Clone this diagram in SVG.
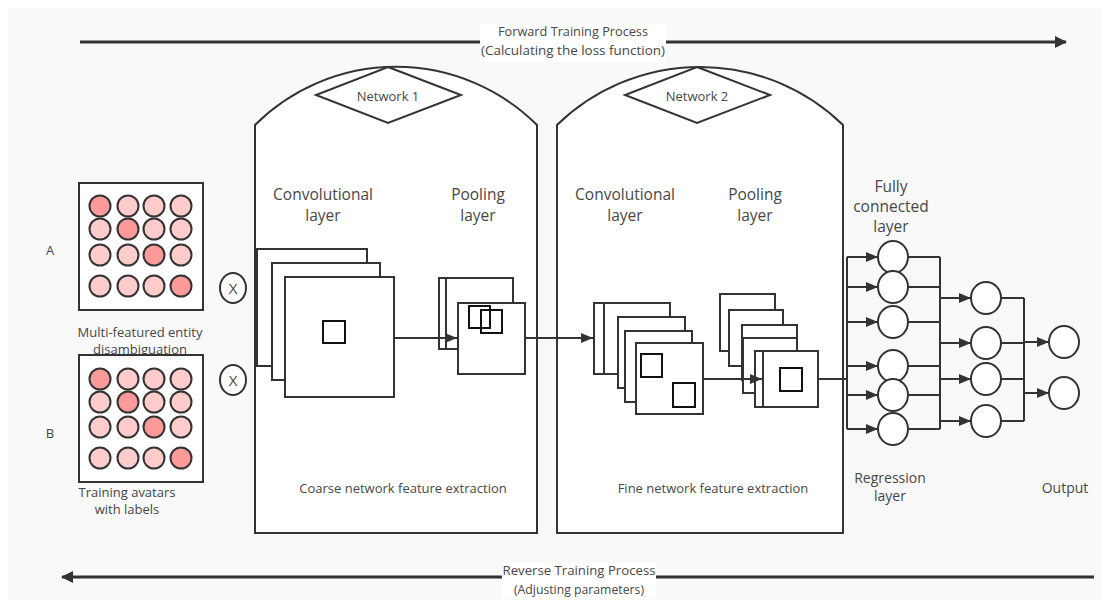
<svg xmlns="http://www.w3.org/2000/svg" width="1110" height="608" viewBox="0 0 1110 608">
  <style>
    text { font-family: "Open Sans", "Noto Sans", sans-serif; fill: #474747; }
    .ln { fill: none; stroke: #333; stroke-width: 2; }
    .box { fill: #fff; stroke: #333; stroke-width: 2; }
    .sq { fill: none; stroke: #111; stroke-width: 2; }
    .node { fill: #fff; stroke: #333; stroke-width: 2; }
    .dk { fill: #ff9a9a; stroke: #333; stroke-width: 2; }
    .lt { fill: #ffcccc; stroke: #333; stroke-width: 2; }
    .arr { fill: none; stroke: #333; stroke-width: 2; marker-end: url(#tri); }
    .big { fill: none; stroke: #333; stroke-width: 3; }
    .lab { font-size: 15.5px; text-anchor: middle; }
    .cap { font-size: 13px; text-anchor: middle; }
    .cap2 { font-size: 14px; text-anchor: middle; }
  </style>
  <defs>
    <marker id="tri" viewBox="0 0 12 10" refX="12" refY="5" markerWidth="12" markerHeight="10" markerUnits="userSpaceOnUse" orient="auto">
      <path d="M0,0 L12,5 L0,10 Z" fill="#333"/>
    </marker>
    <marker id="triBig" viewBox="0 0 12 12" refX="11" refY="6" markerWidth="12" markerHeight="12" markerUnits="userSpaceOnUse" orient="auto">
      <path d="M0,0 L12,6 L0,12 Z" fill="#333"/>
    </marker>
  </defs>

  <!-- canvas -->
  <rect x="0" y="0" width="1110" height="608" fill="#fff"/>
  <rect x="8" y="8" width="1094" height="592" fill="#f9f9f9"/>

  <!-- training direction arrows -->
  <g id="forward">
    <path class="big" d="M80,42 H1066" marker-end="url(#triBig)"/>
    <rect x="480" y="24" width="186" height="38" fill="#fff"/>
    <text x="573" y="36" font-size="13" text-anchor="middle" textLength="150" lengthAdjust="spacingAndGlyphs">Forward Training Process</text>
    <text x="573" y="55" font-size="13" text-anchor="middle" textLength="184" lengthAdjust="spacingAndGlyphs">(Calculating the loss function)</text>
  </g>
  <g id="reverse">
    <path class="big" d="M1094,577 H62" marker-end="url(#triBig)"/>
    <rect x="502" y="563" width="154" height="36" fill="#fff"/>
    <text x="579" y="575" font-size="13" text-anchor="middle" textLength="153" lengthAdjust="spacingAndGlyphs">Reverse Training Process</text>
    <text x="579" y="594" font-size="13" text-anchor="middle" textLength="130" lengthAdjust="spacingAndGlyphs">(Adjusting parameters)</text>
  </g>

  <!-- input A -->
  <g id="input-a">
    <text x="50" y="255" font-size="13" text-anchor="middle">A</text>
    <rect class="box" x="79" y="183" width="124" height="127"/>
    <circle class="dk" cx="100" cy="206" r="10.5"/>
    <circle class="lt" cx="128" cy="206" r="10.5"/>
    <circle class="lt" cx="154" cy="206" r="10.5"/>
    <circle class="lt" cx="181" cy="206" r="10.5"/>
    <circle class="lt" cx="100" cy="229" r="10.5"/>
    <circle class="dk" cx="128" cy="229" r="10.5"/>
    <circle class="lt" cx="154" cy="229" r="10.5"/>
    <circle class="lt" cx="181" cy="229" r="10.5"/>
    <circle class="lt" cx="100" cy="255" r="10.5"/>
    <circle class="lt" cx="128" cy="255" r="10.5"/>
    <circle class="dk" cx="154" cy="255" r="10.5"/>
    <circle class="lt" cx="181" cy="255" r="10.5"/>
    <circle class="lt" cx="100" cy="286" r="10.5"/>
    <circle class="lt" cx="128" cy="286" r="10.5"/>
    <circle class="lt" cx="154" cy="286" r="10.5"/>
    <circle class="dk" cx="181" cy="286" r="10.5"/>
    <text class="cap" x="140" y="337">Multi-featured entity</text>
    <text class="cap" x="140" y="354">disambiguation</text>
  </g>

  <!-- input B -->
  <g id="input-b">
    <text x="50" y="438" font-size="13" text-anchor="middle">B</text>
    <rect class="box" x="79" y="355" width="124" height="127"/>
    <circle class="dk" cx="100" cy="379" r="10.5"/>
    <circle class="lt" cx="128" cy="379" r="10.5"/>
    <circle class="lt" cx="154" cy="379" r="10.5"/>
    <circle class="lt" cx="181" cy="379" r="10.5"/>
    <circle class="lt" cx="100" cy="402" r="10.5"/>
    <circle class="dk" cx="128" cy="402" r="10.5"/>
    <circle class="lt" cx="154" cy="402" r="10.5"/>
    <circle class="lt" cx="181" cy="402" r="10.5"/>
    <circle class="lt" cx="100" cy="427" r="10.5"/>
    <circle class="lt" cx="128" cy="427" r="10.5"/>
    <circle class="dk" cx="154" cy="427" r="10.5"/>
    <circle class="lt" cx="181" cy="427" r="10.5"/>
    <circle class="lt" cx="100" cy="458" r="10.5"/>
    <circle class="lt" cx="128" cy="458" r="10.5"/>
    <circle class="lt" cx="154" cy="458" r="10.5"/>
    <circle class="dk" cx="181" cy="458" r="10.5"/>
    <text class="cap" x="127" y="497">Training avatars</text>
    <text class="cap" x="127" y="514">with labels</text>
  </g>

  <!-- multiply symbols -->
  <g id="mult-a">
    <ellipse class="node" cx="233" cy="288" rx="13" ry="15"/>
    <text x="233" y="294" font-size="15" text-anchor="middle">X</text>
  </g>
  <g id="mult-b">
    <ellipse class="node" cx="233" cy="380" rx="13" ry="15"/>
    <text x="233" y="386" font-size="15" text-anchor="middle">X</text>
  </g>

  <!-- network 1 -->
  <g id="network-1">
    <path class="box" d="M255,533 V125 A200,200 0 0,1 537,125 V533 Z"/>
    <path class="ln" d="M388,67 L461,95 L388,123 L316,95 Z" fill="#fff"/>
    <text x="388" y="101" font-size="13" text-anchor="middle">Network 1</text>
    <text class="lab" x="323" y="200">Convolutional</text>
    <text class="lab" x="323" y="221">layer</text>
    <text class="lab" x="478" y="200">Pooling</text>
    <text class="lab" x="478" y="221">layer</text>
    <text class="cap" x="403" y="493">Coarse network feature extraction</text>
  </g>

  <g id="conv-1">
    <rect class="box" x="257" y="249" width="110" height="117"/>
    <rect class="box" x="272" y="263" width="108" height="117"/>
    <rect class="box" x="285" y="277" width="109" height="120"/>
    <rect class="sq" x="323" y="321" width="22" height="22"/>
  </g>

  <g id="pool-1">
    <rect class="box" x="439" y="278" width="74" height="71"/>
    <rect class="box" x="446" y="278" width="67" height="71"/>
    <rect class="box" x="458" y="303" width="67" height="71"/>
    <rect class="sq" x="469" y="306" width="21" height="22"/>
    <rect class="sq" x="481" y="310" width="21" height="23"/>
  </g>

  <!-- network 2 -->
  <g id="network-2">
    <path class="box" d="M557,533 V125 A205,205 0 0,1 843,125 V533 Z"/>
    <path class="ln" d="M697,67 L770,95 L697,123 L625,95 Z" fill="#fff"/>
    <text x="697" y="101" font-size="13" text-anchor="middle">Network 2</text>
    <text class="lab" x="625" y="200">Convolutional</text>
    <text class="lab" x="625" y="221">layer</text>
    <text class="lab" x="755" y="200">Pooling</text>
    <text class="lab" x="755" y="221">layer</text>
    <text class="cap" x="713" y="493">Fine network feature extraction</text>
  </g>

  <g id="conv-2">
    <rect class="box" x="594" y="303" width="76" height="71"/>
    <rect class="box" x="604" y="303" width="66" height="71"/>
    <rect class="box" x="618" y="317" width="67" height="71"/>
    <rect class="box" x="625" y="331" width="67" height="71"/>
    <rect class="box" x="636" y="343" width="67" height="71"/>
    <rect class="sq" x="641" y="354" width="21" height="23"/>
    <rect class="sq" x="673" y="383" width="22" height="24"/>
  </g>

  <g id="pool-2">
    <rect class="box" x="720" y="294" width="55" height="57"/>
    <rect class="box" x="729" y="310" width="54" height="56"/>
    <rect class="box" x="742" y="325" width="55" height="55"/>
    <rect class="box" x="743" y="338" width="54" height="55"/>
    <rect class="box" x="755" y="351" width="63" height="56"/>
    <rect class="box" x="763" y="351" width="55" height="56"/>
    <rect class="sq" x="780" y="368" width="22" height="23"/>
  </g>

  <!-- fully connected / regression / output nodes -->
  <g id="fc-layer">
    <text class="lab" x="891" y="192">Fully</text>
    <text class="lab" x="891" y="212">connected</text>
    <text class="lab" x="891" y="232">layer</text>
  </g>
  <g id="connectors">
    <path class="arr" d="M394,338 H457"/>
    <path class="arr" d="M525,338 H593"/>
    <path class="arr" d="M703,379 H762"/>
    <path class="ln" d="M818,379 H847"/>
    <path class="ln" d="M847,257 V429"/>
    <path class="arr" d="M847,257 H878"/>
    <path class="arr" d="M847,287 H878"/>
    <path class="arr" d="M847,322 H878"/>
    <path class="arr" d="M847,366 H878"/>
    <path class="arr" d="M847,395 H878"/>
    <path class="arr" d="M847,429 H878"/>
    <path class="ln" d="M908,257 H940 M908,287 H940 M908,322 H940 M908,366 H940 M908,395 H940 M908,429 H940"/>
    <path class="ln" d="M940,257 V429"/>
    <path class="arr" d="M940,298 H971"/>
    <path class="arr" d="M940,343 H971"/>
    <path class="arr" d="M940,379 H971"/>
    <path class="arr" d="M940,421 H971"/>
    <path class="ln" d="M1001,298 H1024 M1001,343 H1024 M1001,379 H1024 M1001,421 H1024"/>
    <path class="ln" d="M1024,298 V421"/>
    <path class="arr" d="M1024,342 H1049"/>
    <path class="arr" d="M1024,393 H1049"/>
  </g>
  <g id="fc-nodes">
    <ellipse class="node" cx="893" cy="257" rx="15" ry="16"/>
    <ellipse class="node" cx="893" cy="287" rx="15" ry="16"/>
    <ellipse class="node" cx="893" cy="322" rx="15" ry="16"/>
    <ellipse class="node" cx="893" cy="366" rx="15" ry="16"/>
    <ellipse class="node" cx="893" cy="395" rx="15" ry="16"/>
    <ellipse class="node" cx="893" cy="429" rx="15" ry="16"/>
  </g>
  <g id="regression-layer">
    <ellipse class="node" cx="986" cy="298" rx="15" ry="16"/>
    <ellipse class="node" cx="986" cy="343" rx="15" ry="16"/>
    <ellipse class="node" cx="986" cy="379" rx="15" ry="16"/>
    <ellipse class="node" cx="986" cy="421" rx="15" ry="16"/>
    <text class="cap2" x="890" y="483">Regression</text>
    <text class="cap2" x="890" y="501">layer</text>
  </g>
  <g id="output-layer">
    <ellipse class="node" cx="1064" cy="342" rx="15" ry="16"/>
    <ellipse class="node" cx="1064" cy="393" rx="15" ry="16"/>
    <text class="cap2" x="1065" y="493">Output</text>
  </g>
</svg>
